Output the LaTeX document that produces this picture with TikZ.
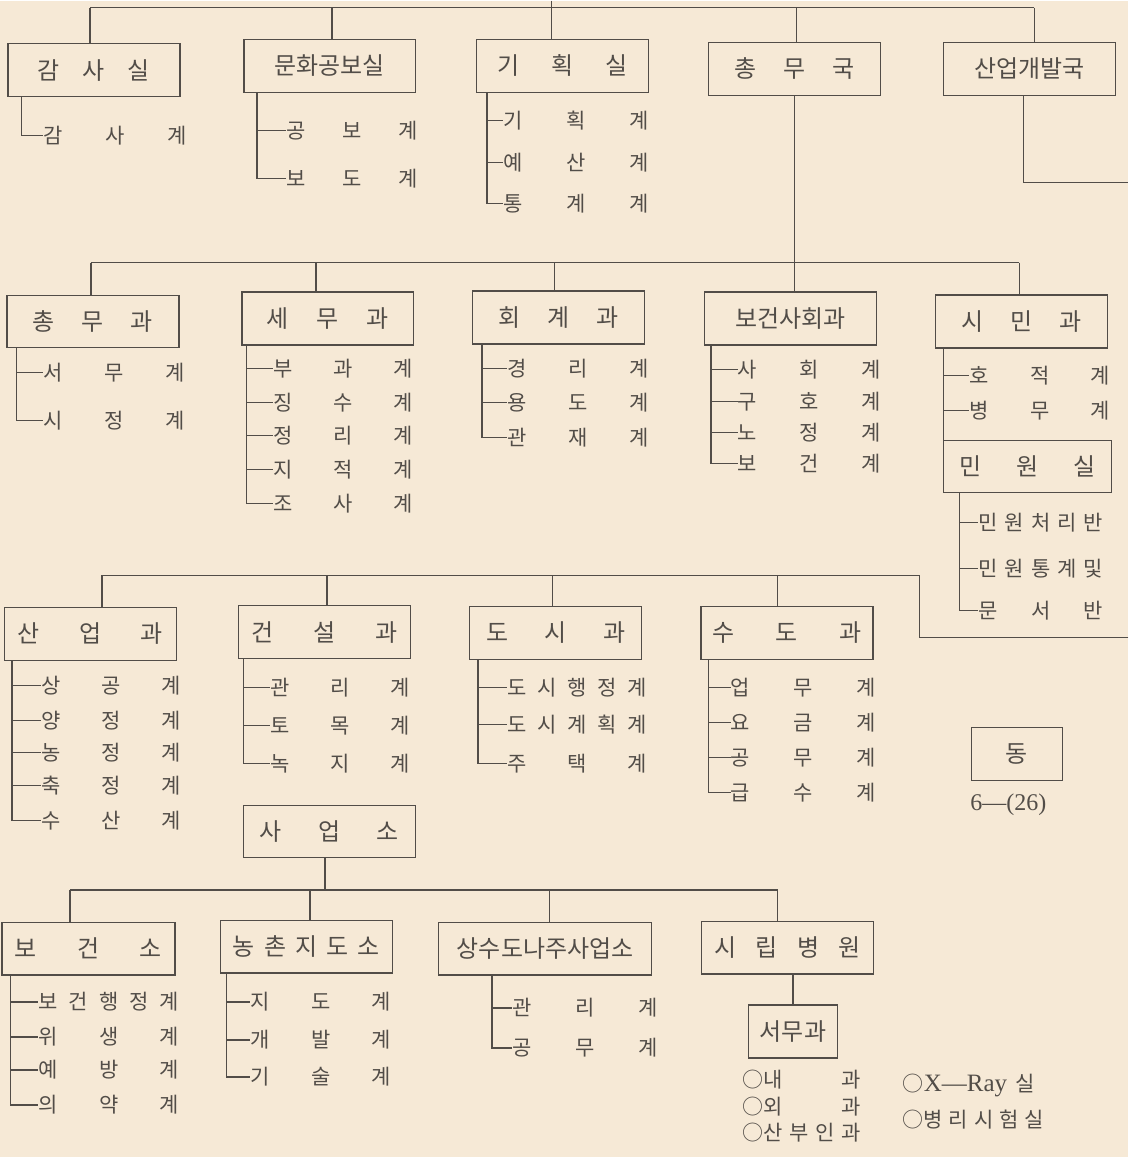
\documentclass[tikz,border=0pt]{standalone}
\usepackage{fontspec}
\setmainfont{Noto Sans CJK KR}
\newfontfamily\latn{Liberation Serif}
\definecolor{paper}{RGB}{246,233,214}
\definecolor{ink}{RGB}{82,77,72}
\tikzset{
  orgbox/.style={draw=ink, line width=0.65pt, minimum width=86pt, minimum height=26.5pt,
    inner sep=0pt, align=center, text=ink, font=\fontsize{12}{12}\selectfont},
  txtw/.style={text width=#1},
  orgitem/.style={anchor=west, inner sep=0pt, text width=#1, text=ink,
    font=\fontsize{10.5}{10.5}\selectfont},
  orgitem/.default=70pt,
  tie/.style={draw=ink, line width=0.7pt},
}
\begin{document}
\begin{tikzpicture}[x=0.5pt, y=-0.5pt]
        \fill[paper] (0,0) rectangle (1129,1157);

        % top row
        \coordinate (up) at (552,0);
        \coordinate (s1a) at (90,7);
        \coordinate (s1b) at (332,7);
        \coordinate (s1d) at (797,7);
        \coordinate (s1e) at (1035,7);
        \node[orgbox, txtw=56pt] (gamsa) at (94,69.5) {감\hfill 사\hfill 실};
        \node[orgbox] (munhwa) at (330,65) {문화공보실};
        \node[orgbox, txtw=65pt] (gihoek) at (563,65) {기\hfill 획\hfill 실};
        \node[orgbox, txtw=60pt] (chongmuguk) at (795,68) {총\hfill 무\hfill 국};
        \node[orgbox] (gaebal) at (1030,68) {산업개발국};
        \draw[tie] (s1a) -- (s1e);
        \draw[tie] (up) -- (up |- gihoek.north);
        \draw[tie] (s1a) -- (s1a |- gamsa.north);
        \draw[tie] (s1b) -- (s1b |- munhwa.north);
        \draw[tie] (s1d) -- (s1d |- chongmuguk.north);
        \draw[tie] (s1e) -- (s1e |- gaebal.north);

        \node[orgitem=72pt] (ga1) at (43,135) {감\hfill 사\hfill 계};
        \draw[tie] ([xshift=7pt]gamsa.south west) |- (ga1.west);

        \node[orgitem=66pt] (mh1) at (286,130) {공\hfill 보\hfill 계};
        \node[orgitem=66pt] (mh2) at (286,178) {보\hfill 도\hfill 계};
        \draw[tie] ([xshift=7pt]munhwa.south west) |- (mh1.west);
        \draw[tie] ([xshift=7pt]munhwa.south west) |- (mh2.west);

        \node[orgitem=73pt] (gh1) at (503,120) {기\hfill 획\hfill 계};
        \node[orgitem=73pt] (gh2) at (503,162) {예\hfill 산\hfill 계};
        \node[orgitem=73pt] (gh3) at (503,203) {통\hfill 계\hfill 계};
        \draw[tie] ([xshift=5.5pt]gihoek.south west) |- (gh1.west);
        \draw[tie] ([xshift=5.5pt]gihoek.south west) |- (gh2.west);
        \draw[tie] ([xshift=5.5pt]gihoek.south west) |- (gh3.west);

        \coordinate (edge1) at (1129,182);
        \draw[tie] ([xshift=-3pt]gaebal.south) |- (edge1);

        % second row
        \coordinate (s2a) at (91,262);
        \coordinate (s2b) at (316,262);
        \coordinate (s2c) at (555,262);
        \coordinate (s2d) at (795,262);
        \coordinate (s2e) at (1020,262);
        \node[orgbox, minimum height=26pt, txtw=60pt] (chongmugwa) at (93,321) {총\hfill 무\hfill 과};
        \node[orgbox, txtw=61pt] (semu) at (328,318) {세\hfill 무\hfill 과};
        \node[orgbox, txtw=60pt] (hoegye) at (559,317) {회\hfill 계\hfill 과};
        \node[orgbox] (bogeon) at (791,318) {보건사회과};
        \node[orgbox, txtw=60pt] (simin) at (1022,321) {시\hfill 민\hfill 과};
        \draw[tie] (chongmuguk.south) -- (s2d);
        \draw[tie] (s2a) -- (s2e);
        \draw[tie] (s2a) -- (s2a |- chongmugwa.north);
        \draw[tie] (s2b) -- (s2b |- semu.north);
        \draw[tie] (s2c) -- (s2c |- hoegye.north);
        \draw[tie] (s2d) -- (s2d |- bogeon.north);
        \draw[tie] (s2e) -- (s2e |- simin.north);

        \node[orgitem=71pt] (cm1) at (43,372) {서\hfill 무\hfill 계};
        \node[orgitem=71pt] (cm2) at (43,420) {시\hfill 정\hfill 계};
        \draw[tie] ([xshift=5pt]chongmugwa.south west) |- (cm1.west);
        \draw[tie] ([xshift=5pt]chongmugwa.south west) |- (cm2.west);

        \node[orgitem] (sm1) at (273,368) {부\hfill 과\hfill 계};
        \node[orgitem] (sm2) at (273,402) {징\hfill 수\hfill 계};
        \node[orgitem] (sm3) at (273,435) {정\hfill 리\hfill 계};
        \node[orgitem] (sm4) at (273,469) {지\hfill 적\hfill 계};
        \node[orgitem] (sm5) at (273,503) {조\hfill 사\hfill 계};
        \draw[tie] ([xshift=2.5pt]semu.south west) |- (sm1.west);
        \draw[tie] ([xshift=2.5pt]semu.south west) |- (sm2.west);
        \draw[tie] ([xshift=2.5pt]semu.south west) |- (sm3.west);
        \draw[tie] ([xshift=2.5pt]semu.south west) |- (sm4.west);
        \draw[tie] ([xshift=2.5pt]semu.south west) |- (sm5.west);

        \node[orgitem=71pt] (hg1) at (507,368) {경\hfill 리\hfill 계};
        \node[orgitem=71pt] (hg2) at (507,402) {용\hfill 도\hfill 계};
        \node[orgitem=71pt] (hg3) at (507,437) {관\hfill 재\hfill 계};
        \draw[tie] ([xshift=5pt]hoegye.south west) |- (hg1.west);
        \draw[tie] ([xshift=5pt]hoegye.south west) |- (hg2.west);
        \draw[tie] ([xshift=5pt]hoegye.south west) |- (hg3.west);

        \node[orgitem=71.5pt] (bg1) at (738,369) {사\hfill 회\hfill 계};
        \node[orgitem=71.5pt] (bg2) at (738,401) {구\hfill 호\hfill 계};
        \node[orgitem=71.5pt] (bg3) at (738,432) {노\hfill 정\hfill 계};
        \node[orgitem=71.5pt] (bg4) at (738,463) {보\hfill 건\hfill 계};
        \draw[tie] ([xshift=3.5pt]bogeon.south west) |- (bg1.west);
        \draw[tie] ([xshift=3.5pt]bogeon.south west) |- (bg2.west);
        \draw[tie] ([xshift=3.5pt]bogeon.south west) |- (bg3.west);
        \draw[tie] ([xshift=3.5pt]bogeon.south west) |- (bg4.west);

        \node[orgitem] (sn1) at (970,375) {호\hfill 적\hfill 계};
        \node[orgitem] (sn2) at (970,410) {병\hfill 무\hfill 계};
        \node[orgbox, minimum width=84pt, minimum height=26pt, txtw=68pt] (minwon) at (1028,466) {민\hfill 원\hfill 실};
        \draw[tie] ([xshift=4.5pt]simin.south west) |- (sn1.west);
        \draw[tie] ([xshift=4.5pt]simin.south west) |- (sn2.west);
        \draw[tie] ([xshift=4.5pt]simin.south west) -- ([xshift=0.5pt]minwon.south west);

        \node[orgitem=62pt] (mw1) at (979,522) {민\hfill 원\hfill 처\hfill 리\hfill 반};
        \node[orgitem=62pt] (mw2) at (979,568) {민\hfill 원\hfill 통\hfill 계\hfill 및};
        \node[orgitem=62pt] (mw3) at (979,610) {문\hfill 서\hfill 반};
        \draw[tie] ([xshift=8.5pt]minwon.south west) |- (mw1.west);
        \draw[tie] ([xshift=8.5pt]minwon.south west) |- (mw2.west);
        \draw[tie] ([xshift=8.5pt]minwon.south west) |- (mw3.west);

        % third row
        \coordinate (s3a) at (102,575);
        \coordinate (s3b) at (327,575);
        \coordinate (s3c) at (553,575);
        \coordinate (s3d) at (778,575);
        \coordinate (s3e) at (920,575);
        \coordinate (edge3) at (1129,637);
        \node[orgbox, txtw=72.5pt] (sanup) at (90.5,633.5) {산\hfill 업\hfill 과};
        \node[orgbox, txtw=73pt] (geonseol) at (324.5,632) {건\hfill 설\hfill 과};
        \node[orgbox, txtw=69.5pt] (dosi) at (556,632.5) {도\hfill 시\hfill 과};
        \node[orgbox, txtw=74.5pt] (sudo) at (787.5,632.5) {수\hfill 도\hfill 과};
        \draw[tie] (edge3) -| (s3e) -- (s3a);
        \draw[tie] (s3a) -- (s3a |- sanup.north);
        \draw[tie] (s3b) -- (s3b |- geonseol.north);
        \draw[tie] (s3c) -- (s3c |- dosi.north);
        \draw[tie] (s3d) -- (s3d |- sudo.north);

        \node[orgitem] (su1) at (41,685) {상\hfill 공\hfill 계};
        \node[orgitem] (su2) at (41,720) {양\hfill 정\hfill 계};
        \node[orgitem] (su3) at (41,752) {농\hfill 정\hfill 계};
        \node[orgitem] (su4) at (41,785) {축\hfill 정\hfill 계};
        \node[orgitem] (su5) at (41,820) {수\hfill 산\hfill 계};
        \draw[tie] ([xshift=4pt]sanup.south west) |- (su1.west);
        \draw[tie] ([xshift=4pt]sanup.south west) |- (su2.west);
        \draw[tie] ([xshift=4pt]sanup.south west) |- (su3.west);
        \draw[tie] ([xshift=4pt]sanup.south west) |- (su4.west);
        \draw[tie] ([xshift=4pt]sanup.south west) |- (su5.west);

        \node[orgitem] (gn1) at (270,687) {관\hfill 리\hfill 계};
        \node[orgitem] (gn2) at (270,725) {토\hfill 목\hfill 계};
        \node[orgitem] (gn3) at (270,763) {녹\hfill 지\hfill 계};
        \draw[tie] ([xshift=3pt]geonseol.south west) |- (gn1.west);
        \draw[tie] ([xshift=3pt]geonseol.south west) |- (gn2.west);
        \draw[tie] ([xshift=3pt]geonseol.south west) |- (gn3.west);

        \node[orgitem] (ds1) at (507,687) {도\hfill 시\hfill 행\hfill 정\hfill 계};
        \node[orgitem] (ds2) at (507,724) {도\hfill 시\hfill 계\hfill 획\hfill 계};
        \node[orgitem] (ds3) at (507,763) {주\hfill 택\hfill 계};
        \draw[tie] ([xshift=4.5pt]dosi.south west) |- (ds1.west);
        \draw[tie] ([xshift=4.5pt]dosi.south west) |- (ds2.west);
        \draw[tie] ([xshift=4.5pt]dosi.south west) |- (ds3.west);

        \node[orgitem=72.5pt] (sd1) at (731,687) {업\hfill 무\hfill 계};
        \node[orgitem=72.5pt] (sd2) at (731,722) {요\hfill 금\hfill 계};
        \node[orgitem=72.5pt] (sd3) at (731,757) {공\hfill 무\hfill 계};
        \node[orgitem=72.5pt] (sd4) at (731,792) {급\hfill 수\hfill 계};
        \draw[tie] ([xshift=4pt]sudo.south west) |- (sd1.west);
        \draw[tie] ([xshift=4pt]sudo.south west) |- (sd2.west);
        \draw[tie] ([xshift=4pt]sudo.south west) |- (sd3.west);
        \draw[tie] ([xshift=4pt]sudo.south west) |- (sd4.west);

        \node[orgbox, minimum width=45.5pt] (dong) at (1017.5,753.5) {동};
        \node[text=ink, font=\latn\fontsize{12}{12}\selectfont] (pageno) at (1009,805) {6—(26)};

        % business offices
        \node[orgbox, minimum height=26pt, txtw=69.5pt] (saeopso) at (329.5,831) {사\hfill 업\hfill 소};
        \coordinate (s4x) at (325,890);
        \coordinate (s4a) at (70,890);
        \coordinate (s4b) at (310,890);
        \coordinate (s4c) at (550,890);
        \coordinate (s4d) at (778,890);
        \node[orgbox, minimum width=86.5pt, txtw=73.5pt] (bogeonso) at (88.5,948.5) {보\hfill 건\hfill 소};
        \node[orgbox, txtw=73.5pt] (nongchon) at (306.5,946.5) {농\hfill 촌\hfill 지\hfill 도\hfill 소};
        \node[orgbox, minimum width=106.5pt] (sangsudo) at (545.5,948.5) {상수도나주사업소};
        \node[orgbox, txtw=73.5pt] (sirip) at (788,947.5) {시\hfill 립\hfill 병\hfill 원};
        \draw[tie] (saeopso.south -| s4x) -- (s4x);
        \draw[tie] (s4a) -- (s4d);
        \draw[tie] (s4a) -- (s4a |- bogeonso.north);
        \draw[tie] (s4b) -- (s4b |- nongchon.north);
        \draw[tie] (s4c) -- (s4c |- sangsudo.north);
        \draw[tie] (s4d) -- (s4d |- sirip.north);

        \node[orgitem=70.5pt] (bj1) at (38,1002) {보\hfill 건\hfill 행\hfill 정\hfill 계};
        \node[orgitem=70.5pt] (bj2) at (38,1037) {위\hfill 생\hfill 계};
        \node[orgitem=70.5pt] (bj3) at (38,1070) {예\hfill 방\hfill 계};
        \node[orgitem=70.5pt] (bj4) at (38,1105) {의\hfill 약\hfill 계};
        \draw[tie] ([xshift=4.5pt]bogeonso.south west) |- (bj1.west);
        \draw[tie] ([xshift=4.5pt]bogeonso.south west) |- (bj2.west);
        \draw[tie] ([xshift=4.5pt]bogeonso.south west) |- (bj3.west);
        \draw[tie] ([xshift=4.5pt]bogeonso.south west) |- (bj4.west);

        \node[orgitem=70.5pt] (nc1) at (250,1002) {지\hfill 도\hfill 계};
        \node[orgitem=70.5pt] (nc2) at (250,1040) {개\hfill 발\hfill 계};
        \node[orgitem=70.5pt] (nc3) at (250,1077) {기\hfill 술\hfill 계};
        \draw[tie] ([xshift=3.5pt]nongchon.south west) |- (nc1.west);
        \draw[tie] ([xshift=3.5pt]nongchon.south west) |- (nc2.west);
        \draw[tie] ([xshift=3.5pt]nongchon.south west) |- (nc3.west);

        \node[orgitem=73pt] (ss1) at (512,1008) {관\hfill 리\hfill 계};
        \node[orgitem=73pt] (ss2) at (512,1048) {공\hfill 무\hfill 계};
        \draw[tie] ([xshift=27pt]sangsudo.south west) |- (ss1.west);
        \draw[tie] ([xshift=27pt]sangsudo.south west) |- (ss2.west);

        % city hospital
        \node[orgbox, minimum width=44.5pt] (seomu) at (793.5,1031.5) {서무과};
        \draw[tie] (sirip.south -| seomu.north) -- (seomu.north);
        \node[orgitem=59pt] (hp1) at (743,1080) {○내\hfill 과};
        \node[orgitem=59pt] (hp2) at (743,1107) {○외\hfill 과};
        \node[orgitem=59pt] (hp3) at (743,1133) {○산\hfill 부\hfill 인\hfill 과};
        \node[orgitem=66pt] (hp4) at (903,1085) {○{\latn\fontsize{12.5}{12.5}\selectfont X—Ray}\hfill 실};
        \node[orgitem=70.5pt] (hp5) at (903,1120) {○병\hfill 리\hfill 시\hfill 험\hfill 실};
\end{tikzpicture}
\end{document}
